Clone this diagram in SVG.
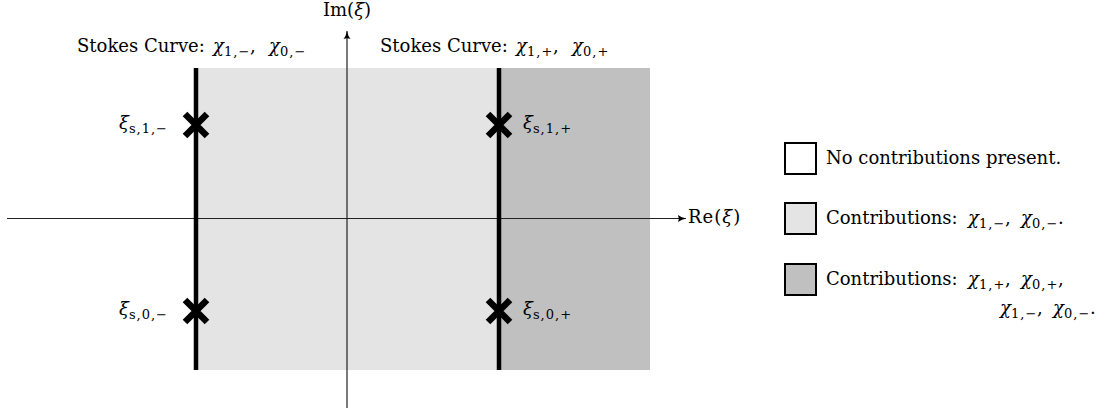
<svg xmlns="http://www.w3.org/2000/svg" width="1111" height="411" viewBox="0 0 1111 411">
<style>
text{font-family:"DejaVu Serif","Liberation Serif",serif;font-size:18px;fill:#000}
.m{font-style:italic}
.s{font-size:13px;font-style:normal;letter-spacing:1px}
.ax{stroke:#222;stroke-width:1.2;fill:none}
.stokes{stroke:#000;stroke-width:4.5}
.x{stroke:#000;stroke-width:6.5;stroke-linecap:butt}
.box{stroke:#000;stroke-width:2}
</style>
<defs>
<marker id="arr" markerWidth="10" markerHeight="10" refX="8" refY="5" orient="auto" markerUnits="userSpaceOnUse">
<path d="M0,1.5 Q3,4 8,5 Q3,6 0,8.5 Q1.5,5 0,1.5 Z" fill="#000"/>
</marker>
</defs>
<g id="regions">
<rect x="196" y="68" width="303" height="302" fill="#e4e4e4"/>
<rect x="499" y="68" width="151" height="302" fill="#c0c0c0"/>
</g>
<g id="connectors">
<line class="ax" x1="7" y1="218.5" x2="686" y2="218.5" marker-end="url(#arr)"/>
<line class="ax" x1="347" y1="408" x2="347" y2="31" marker-end="url(#arr)"/>
</g>
<g id="stokes-left">
<line class="stokes" x1="196" y1="68" x2="196" y2="370"/>
<text y="52"><tspan x="77">Stokes Curve:</tspan><tspan class="m" x="213">χ</tspan><tspan class="s" x="224" dy="4">1,−</tspan><tspan x="250" dy="-4">,</tspan><tspan class="m" x="269">χ</tspan><tspan class="s" x="280" dy="4">0,−</tspan></text>
</g>
<g id="stokes-right">
<line class="stokes" x1="499" y1="68" x2="499" y2="370"/>
<text y="52"><tspan x="380">Stokes Curve:</tspan><tspan class="m" x="516">χ</tspan><tspan class="s" x="527" dy="4">1,+</tspan><tspan x="553" dy="-4">,</tspan><tspan class="m" x="572">χ</tspan><tspan class="s" x="583" dy="4">0,+</tspan></text>
</g>
<g id="axis-labels">
<text x="347" y="16" text-anchor="middle">Im(<tspan class="m">ξ</tspan>)</text>
<text x="688" y="223" letter-spacing="1">Re(<tspan class="m">ξ</tspan>)</text>
</g>
<g id="xi-s1-minus">
<path class="x" d="M185,114 L207,136 M207,114 L185,136"/>
<text x="168" y="129" text-anchor="end"><tspan class="m">ξ</tspan><tspan class="s" dy="4">s,1,−</tspan></text>
</g>
<g id="xi-s1-plus">
<path class="x" d="M488,114 L510,136 M510,114 L488,136"/>
<text x="523" y="129"><tspan class="m">ξ</tspan><tspan class="s" dy="4">s,1,+</tspan></text>
</g>
<g id="xi-s0-minus">
<path class="x" d="M185,300 L207,322 M207,300 L185,322"/>
<text x="168" y="315" text-anchor="end"><tspan class="m">ξ</tspan><tspan class="s" dy="4">s,0,−</tspan></text>
</g>
<g id="xi-s0-plus">
<path class="x" d="M488,300 L510,322 M510,300 L488,322"/>
<text x="523" y="315"><tspan class="m">ξ</tspan><tspan class="s" dy="4">s,0,+</tspan></text>
</g>
<g id="legend-none">
<rect class="box" x="785" y="143" width="31" height="31" fill="#fff"/>
<text x="826" y="164">No contributions present.</text>
</g>
<g id="legend-light">
<rect class="box" x="785" y="203" width="31" height="31" fill="#e4e4e4"/>
<text y="224"><tspan x="826">Contributions:</tspan><tspan class="m" x="968">χ</tspan><tspan class="s" x="979" dy="4">1,−</tspan><tspan x="1005" dy="-4">,</tspan><tspan class="m" x="1021">χ</tspan><tspan class="s" x="1032" dy="4">0,−</tspan><tspan x="1058" dy="-4">.</tspan></text>
</g>
<g id="legend-dark">
<rect class="box" x="785" y="264" width="31" height="31" fill="#c0c0c0"/>
<text y="285"><tspan x="826">Contributions:</tspan><tspan class="m" x="968">χ</tspan><tspan class="s" x="979" dy="4">1,+</tspan><tspan x="1005" dy="-4">,</tspan><tspan class="m" x="1021">χ</tspan><tspan class="s" x="1032" dy="4">0,+</tspan><tspan x="1058" dy="-4">,</tspan></text>
<text y="314"><tspan class="m" x="1000">χ</tspan><tspan class="s" x="1011" dy="4">1,−</tspan><tspan x="1037" dy="-4">,</tspan><tspan class="m" x="1053">χ</tspan><tspan class="s" x="1064" dy="4">0,−</tspan><tspan x="1090" dy="-4">.</tspan></text>
</g>
</svg>
